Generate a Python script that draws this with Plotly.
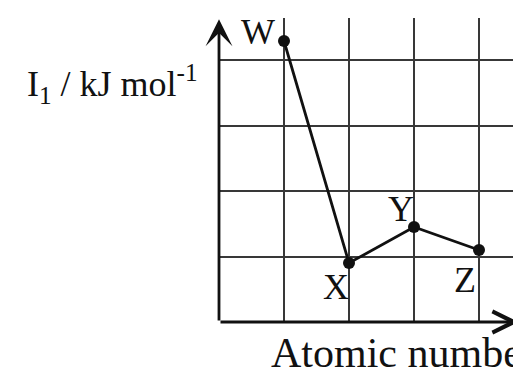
import plotly.graph_objects as go

# element labels and their first ionisation energies (arbitrary grid units)
elements = ["W", "X", "Y", "Z"]
atomic_pos = [1, 2, 3, 4]
ie_values = [4.29, 0.90, 1.45, 1.10]

# label offsets in px (x, y) relative to each point
label_shift = {"W": (-26, 9), "X": (-13, -24), "Y": (-13, 18), "Z": (-14, -30)}

FONT = "Liberation Serif"
INK = "#111111"

x_max = 302 / 65.0
y_max = 304 / 65.5

fig = go.Figure()

fig.add_trace(go.Scatter(
    x=atomic_pos, y=ie_values, mode="lines+markers",
    line=dict(color=INK, width=2.8),
    marker=dict(color=INK, size=12),
    showlegend=False, hoverinfo="skip",
))

# point labels
for name, xv, yv in zip(elements, atomic_pos, ie_values):
    dx, dy = label_shift[name]
    fig.add_annotation(x=xv, y=yv, text=name, showarrow=False,
                       xshift=dx, yshift=dy,
                       font=dict(family=FONT, size=36, color=INK))

# axes drawn as arrows
fig.add_annotation(x=0, y=y_max - 0.02, ax=0, ay=0, axref="x", ayref="y",
                   text="", showarrow=True, arrowhead=3, arrowsize=1.6,
                   arrowwidth=2.8, arrowcolor=INK, standoff=0, startstandoff=0)
fig.add_annotation(x=x_max - 0.04, y=0, ax=0, ay=0, axref="x", ayref="y",
                   text="", showarrow=True, arrowhead=5, arrowsize=1.5,
                   arrowwidth=2.8, arrowcolor=INK, standoff=0, startstandoff=0)

# axis titles
fig.add_annotation(xref="paper", yref="paper", x=-0.063, y=0.782,
                   xanchor="right", yanchor="middle", showarrow=False,
                   text="I<sub>1</sub> / kJ mol<sup>-1</sup>",
                   font=dict(family=FONT, size=36, color=INK))
fig.add_annotation(xref="paper", yref="paper", x=0.165, y=-0.185,
                   xanchor="left", yanchor="bottom", showarrow=False,
                   text="Atomic number",
                   font=dict(family=FONT, size=42, color=INK))

fig.update_xaxes(range=[0, x_max], tick0=0, dtick=1, showgrid=True,
                 gridcolor="#383838", gridwidth=1.8, zeroline=False,
                 showline=False, showticklabels=False, ticks="")
fig.update_yaxes(range=[0, y_max], tick0=0, dtick=1, showgrid=True,
                 gridcolor="#383838", gridwidth=1.8, zeroline=False,
                 showline=False, showticklabels=False, ticks="")

# the page body adds an 8px margin, so margins are trimmed to compensate
fig.update_layout(width=521, height=370,
                  margin=dict(l=211, r=8, t=10, b=56),
                  paper_bgcolor="white", plot_bgcolor="white")

fig.write_html("out.html")
